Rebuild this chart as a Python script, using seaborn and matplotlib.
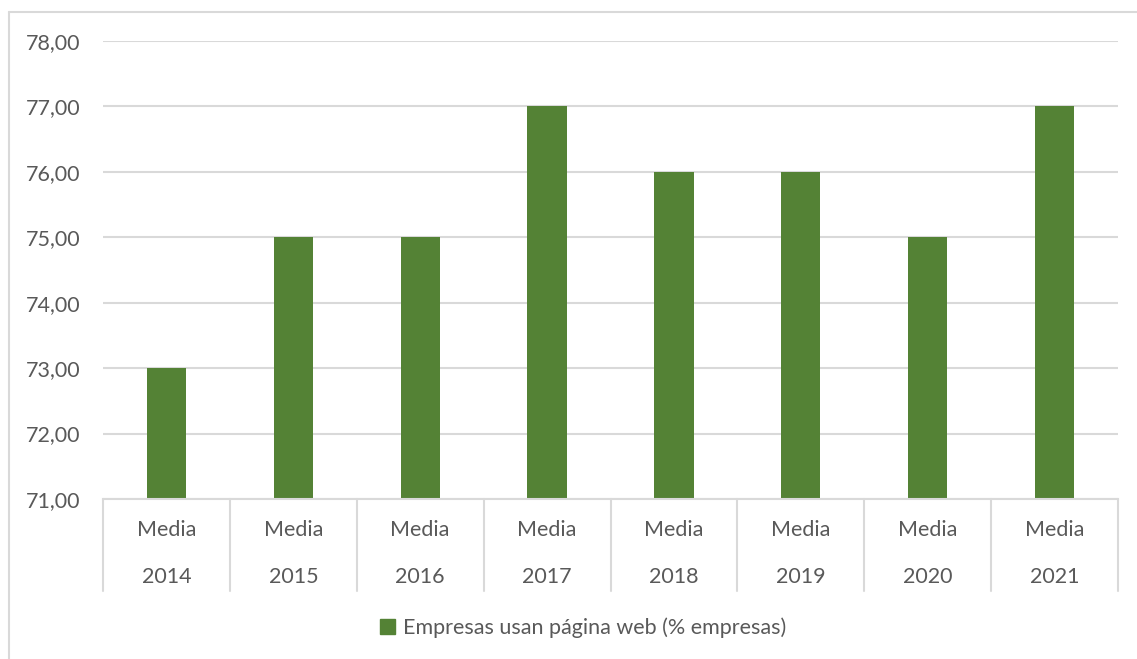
import matplotlib
matplotlib.use("Agg")
import matplotlib.pyplot as plt
import matplotlib.transforms as mtransforms
from matplotlib.patches import Patch
from matplotlib.lines import Line2D
import seaborn as sns
import pandas as pd

# Data
years = ["2014", "2015", "2016", "2017", "2018", "2019", "2020", "2021"]
group_label = "Media"
values = [73, 75, 75, 77, 76, 76, 75, 77]
series_name = "Empresas usan página web (% empresas)"

df = pd.DataFrame({"year": years, "value": values})

sns.set_theme(style="white")
plt.rcParams["font.family"] = ["Lato", "DejaVu Sans"]

TEXT = "#595959"
GRID = "#d9d9d9"
GREEN = "#548235"
FS = 15.5

W, H = 1137, 659
fig = plt.figure(figsize=(W / 100, H / 100), dpi=100)
ax = fig.add_axes([103 / W, 1 - 499 / H, (1118 - 103) / W, (499 - 41) / H])

sns.barplot(data=df, x="year", y="value", color=GREEN, width=0.31,
            saturation=1, linewidth=0, ax=ax, zorder=3)

ax.set_ylim(71, 78)
ax.set_xlim(-0.5, len(years) - 0.5)
ax.set_yticks(range(71, 79))
ax.set_yticklabels([f"{v},00" for v in range(71, 79)], color=TEXT, fontsize=FS)
ax.tick_params(axis="y", length=0, pad=16)
ax.set_xticks([])
ax.set_xlabel("")
ax.set_ylabel("")
ax.grid(axis="y", color=GRID, linewidth=1.5, zorder=0)
for side in ["top", "right", "left"]:
    ax.spines[side].set_visible(False)
ax.spines["bottom"].set_color(GRID)
ax.spines["bottom"].set_linewidth(1.5)
ax.spines["bottom"].set_zorder(4)

# Two-level category axis: group label above year, with separators
ax_h = 499 - 41
trans = mtransforms.blended_transform_factory(ax.transData, ax.transAxes)
sep_bottom = -(591 - 499) / ax_h
for i, yr in enumerate(years):
    ax.text(i, -(530 - 499) / ax_h, group_label, transform=trans,
            ha="center", va="center", color=TEXT, fontsize=FS)
    ax.text(i, -(577 - 499) / ax_h, yr, transform=trans,
            ha="center", va="center", color=TEXT, fontsize=FS)
for b in [i - 0.5 for i in range(len(years) + 1)]:
    ax.add_line(Line2D([b, b], [0, sep_bottom], transform=trans, color=GRID,
                       linewidth=1.5, clip_on=False))

# Legend
handle = Patch(facecolor=GREEN, edgecolor=GREEN)
fig.legend([handle], [series_name], loc="center",
           bbox_to_anchor=(583 / W, 1 - 628 / H), frameon=False,
           fontsize=FS, labelcolor=TEXT, handlelength=0.7, handleheight=0.7,
           handletextpad=0.35)

# Chart-area frame
fig.add_artist(Line2D([8.5 / W, 8.5 / W], [0, 1 - 11.5 / H], transform=fig.transFigure,
                      color=GRID, linewidth=1.5))
fig.add_artist(Line2D([8.5 / W, 1], [1 - 11.5 / H, 1 - 11.5 / H], transform=fig.transFigure,
                      color=GRID, linewidth=1.5))

fig.savefig("out.png", dpi=100)
